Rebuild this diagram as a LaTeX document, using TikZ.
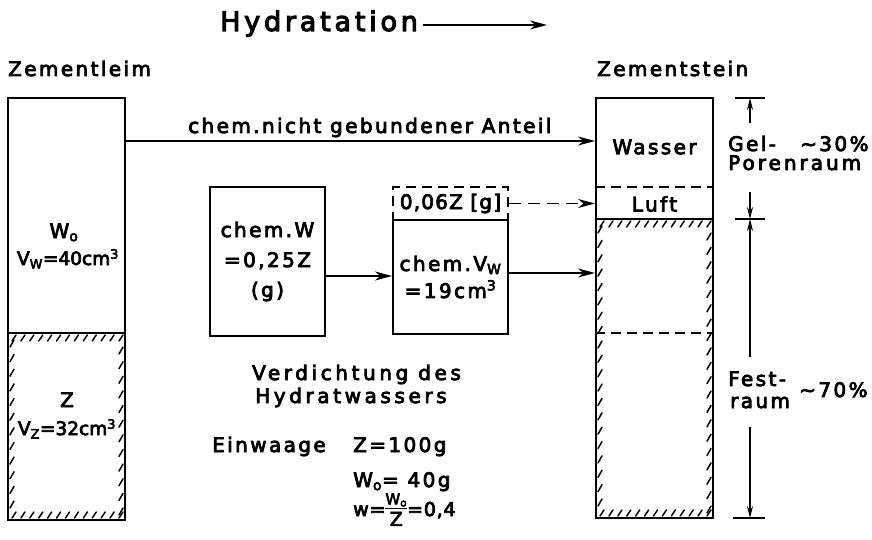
\documentclass[tikz,border=0pt]{standalone}
\usepackage{fontspec}
\setmainfont{DejaVu Sans}[LetterSpace=12, FakeBold=4]
\usetikzlibrary{arrows.meta}
\newcommand\LS[1]{\addfontfeature{LetterSpace=#1}}
\tikzset{
  col/.style={draw, line width=2pt, inner sep=0pt, minimum width=117pt},
  box/.style={draw, line width=2pt, inner sep=0pt, minimum width=115pt, align=center,
              font=\fontsize{20}{30}\selectfont},
  arr/.style={line width=1.5pt, -{Stealth[length=17pt,width=9pt]}},
  dimarr/.style={line width=1.2pt, -{Stealth[length=12pt,width=6pt]}},
  dim/.style={line width=1.2pt},
  hatch/.style={line width=1.5pt, line cap=round},
  dsh/.style={line width=1.7pt, dash pattern=on 10pt off 6pt},
  lbl/.style={inner sep=0pt, font=\fontsize{20}{24}\selectfont},
}
\newcommand\hatchrect[6]{%
  \foreach \i [evaluate=\i as \x using {#1+6+(#3-#1-10)*\i/#5}] in {0,...,#5}{
    \draw[hatch] (\x+2,#2+2) -- (\x-2,#2+8);
    \draw[hatch] (\x-2,#4-2) -- (\x+2,#4-8);
  }
  \foreach \i [evaluate=\i as \y using {#2+14+(#4-#2-26)*\i/#6}] in {0,...,#6}{
    \draw[hatch] (#1+2,\y) -- (#1+6,\y-7);
    \draw[hatch] (#3-2,\y) -- (#3-6,\y+7);
  }
}
\begin{document}
\begin{tikzpicture}[x=1pt,y=-1pt]
\useasboundingbox (0,0) rectangle (872,540);
% title
\node[lbl, font=\fontsize{27}{30}\selectfont\LS{14}, anchor=base west] (title) at (220,31) {Hydratation};
\coordinate (tend) at (547,25);
\draw[arr] ([xshift=5pt,yshift=6pt]title.base east) -- (tend);
% headings
\node[lbl, anchor=base west] (hleim) at (8,76) {Zementleim};
\node[lbl, anchor=base west] (hstein) at (597,76) {Zementstein};
% left column
\node[col, minimum height=422pt] (leim) at (66.5,309) {};
\draw[line width=2pt] (leim.west |- 0,333) -- (leim.east |- 0,333);
\hatchrect{8}{333}{125}{520}{12}{11}
\node[lbl, anchor=base] (wo) at (64,238) {W\textsubscript{o}};
\node[lbl, font=\fontsize{18.5}{20}\selectfont\LS{0}, anchor=base] (vw) at (68,265) {V\textsubscript{W}=40cm\textsuperscript{3}};
\node[lbl, anchor=base] (z) at (67,407) {Z};
\node[lbl, font=\fontsize{18.5}{20}\selectfont\LS{0}, anchor=base] (vz) at (67,435) {V\textsubscript{Z}=32cm\textsuperscript{3}};
% right column
\node[col, minimum height=420pt] (stein) at (654.5,308) {};
\draw[dsh] (stein.west |- 0,187) -- (stein.east |- 0,187);
\draw[line width=2pt] (stein.west |- 0,219) -- (stein.east |- 0,219);
\draw[dsh] (stein.west |- 0,333) -- (stein.east |- 0,333);
\hatchrect{596}{219}{713}{518}{12}{19}
\node[lbl] (wasser) at (654.5,147) {Wasser};
\node[lbl] (luft) at (654.5,204) {Luft};
% middle boxes
\node[box, minimum height=149pt] (box1) at (267.5,261.5) {chem.W\\=0,25Z\\(g)};
\node[box, dsh, minimum height=33pt, font=\fontsize{20}{24}\selectfont\LS{6}] (box2top) at (450.5,203.5) {0,06Z [g]};
\node[box, minimum height=114pt, font=\fontsize{20}{27}\selectfont] (box2) at (450.5,277) {chem.V\textsubscript{W}\\=19cm\textsuperscript{3}};
% connectors
\draw[arr] (leim.east |- 0,141) -- (stein.west |- 0,141);
\node[lbl, anchor=base west] (anteil) at (188,133) {chem.nicht gebundener Anteil};
\draw[arr] (box1.east |- 0,276) -- (box2.west |- 0,276);
\draw[arr] (box2.east |- 0,273) -- (stein.west |- 0,273);
\draw[arr, dash pattern=on 12pt off 7pt] (box2top.east) -- (stein.west |- box2top.east);
% dimension
\coordinate (d0) at (750,98);
\coordinate (d1) at (750,219);
\coordinate (d2) at (750,518);
\coordinate (a0) at (750,123);
\coordinate (a1) at (750,192);
\coordinate (a2) at (750,357);
\coordinate (a3) at (750,427);
\draw[dim] (735,98) -- (765,98);
\draw[dim] (735,219) -- (765,219);
\draw[dim] (733,518) -- (765,518);
\draw[dimarr] (a0) -- (d0);
\draw[dimarr] (a1) -- (d1);
\draw[dimarr] (a2) -- (d1);
\draw[dimarr] (a3) -- (d2);
\node[lbl, anchor=base west] (gel) at (728,151) {Gel-};
\node[lbl, anchor=base west] (p30) at (800,151) {\textasciitilde30\%};
\node[lbl, anchor=base west, font=\fontsize{20}{24}\selectfont\LS{15}] (poren) at (728,170) {Porenraum};
\node[lbl, anchor=base west] (fest) at (728,386) {Fest-};
\node[lbl, anchor=base west] (raum) at (730,408) {raum};
\node[lbl, anchor=base west] (p70) at (799,397) {\textasciitilde70\%};
% bottom texts
\node[lbl, anchor=base west, font=\fontsize{20}{24}\selectfont\LS{18}] (verd) at (252,380) {Verdichtung des};
\node[lbl, anchor=base west, font=\fontsize{20}{24}\selectfont\LS{18}] (hydr) at (255,403) {Hydratwassers};
\node[lbl, anchor=base west] (einw) at (212,452) {Einwaage};
\node[lbl, anchor=base west] (z100) at (353,452) {Z=100g};
\node[lbl, anchor=base west] (w40) at (353,487) {W\textsubscript{o}= 40g};
\node[lbl, anchor=base west, font=\fontsize{19}{20}\selectfont\LS{4}] (wfrac) at (353,516) {w=\renewcommand\arraystretch{0.85}\setlength\tabcolsep{0pt}\begin{tabular}{c}{\fontsize{15}{15}\selectfont W\textsubscript{o}}\\[-1pt]\hline\rule{0pt}{17pt}{\fontsize{19}{19}\selectfont Z}\end{tabular}=0,4};
\end{tikzpicture}
\end{document}
